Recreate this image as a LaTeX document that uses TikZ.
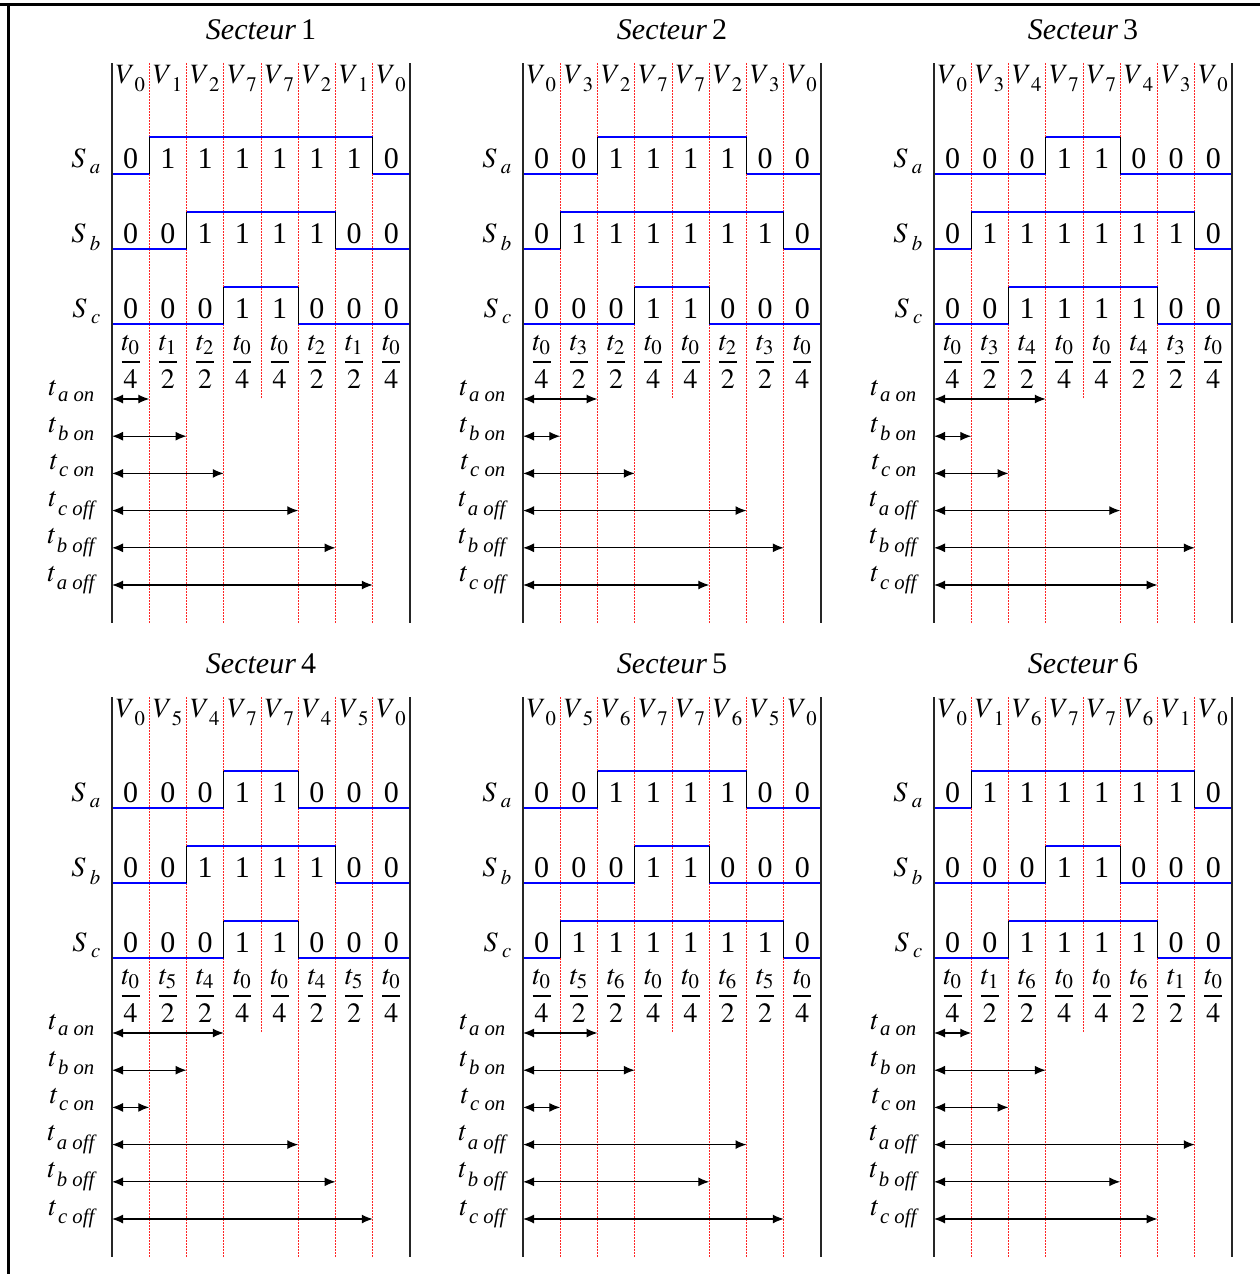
\documentclass[tikz,border=0pt]{standalone}
\usepackage{amsmath}
\usepackage{mathptmx}
\usepackage{fontspec}
\setmainfont{Liberation Serif}
\usepackage{tikz}
\usetikzlibrary{arrows.meta,positioning}

\def\colw{37.25}

\tikzset{
  titre/.style={font=\fontsize{30}{32}\selectfont},
  vlab/.style={font=\fontsize{28}{30}\selectfont, anchor=base, inner sep=0pt},
  bit/.style={font=\fontsize{30}{32}\selectfont, anchor=base, inner sep=0pt},
  slab/.style={font=\fontsize{28}{30}\selectfont, anchor=base east, inner sep=0pt},
  frac/.style={font=\fontsize{28}{30}\selectfont, anchor=base, inner sep=0pt},
  tlab/.style={font=\fontsize{28}{30}\selectfont, anchor=base east, inner sep=0pt},
  grille/.style={red!85, line width=0.9pt, dash pattern=on 1.5pt off 1.5pt},
  axe/.style={black!85, line width=1.3pt},
  signal/.style={blue, line width=1.3pt},
  front/.style={black, line width=1pt},
  fleche/.style={{Latex[length=11pt,width=9pt]}-{Latex[length=11pt,width=9pt]}, line width=1.2pt},
  cadre/.style={line width=3.3pt}
}

% one switching row: name, low level, values
\newcommand{\ligne}[3]{%
  \foreach \v [count=\i, remember=\v as \pv (initially 0)] in {#3} {
    \pgfmathsetmacro{\yy}{#2-37*\v}
    \draw[signal] ({(\i-1)*\colw},\yy) -- ({\i*\colw},\yy);
    \ifnum\v=\pv\relax\else
      \draw[front] ({(\i-1)*\colw},#2) -- ({(\i-1)*\colw},#2-37);
    \fi
    \node[bit] (#1\i) at ({(\i-0.5)*\colw},#2-6) {\v};
  }}

% one sector: name, origin, number, vectors, Sa, Sb, Sc, fractions, arrows
\newcommand{\secteur}[9]{%
  \begin{scope}[shift={#2}]
    \node[titre] (#1-titre) at (149,-33) {\textit{Secteur}\,#3};
    \foreach \k in {1,2,3,5,6,7}
      \draw[grille] ({\k*\colw},0) -- ({\k*\colw},560);
    \draw[grille] ({4*\colw},0) -- ({4*\colw},336);
    \foreach \n [count=\i] in {#4}
      \node[vlab] (#1-v\i) at ({(\i-0.5)*\colw},20) {$V_{\;\n}^{}$};
    \node[slab] (#1-sa) at (-11,104) {$S_{\;a}^{}$};
    \node[slab] (#1-sb) at (-11,179) {$S_{\;b}^{}$};
    \node[slab] (#1-sc) at (-11,254) {$S_{\;c}^{}$};
    \ligne{#1-a}{111}{#5}
    \ligne{#1-b}{186}{#6}
    \ligne{#1-c}{261}{#7}
    \foreach \n/\d [count=\i] in {#8}
      \node[frac] (#1-f\i) at ({(\i-0.5)*\colw},306) {$\dfrac{t_{\n}}{\d}$};
    \foreach \lab/\k [count=\i] in {#9} {
      \coordinate (#1-d\i) at (0,{336+37.2*(\i-1)});
      \coordinate (#1-e\i) at ({\k*\colw},{336+37.2*(\i-1)});
      \draw[fleche] (#1-d\i) -- (#1-e\i);
      \node[tlab] (#1-t\i) at ([xshift=-17pt,yshift=4pt]#1-d\i) {$t_{\,\textit{\lab}}^{}$};
    }
    \draw[axe] (0,0) -- (0,560);
    \draw[axe] ({8*\colw},0) -- ({8*\colw},560);
  \end{scope}}

\begin{document}
\begin{tikzpicture}[x=1pt,y=-1pt]
  \useasboundingbox (0,0) rectangle (1260,1274);
  \draw[cadre] (0,4.7) -- (1260,4.7);
  \draw[cadre] (8.5,3) -- (8.5,1274);

  \secteur{s1}{(112,63)}{1}{0,1,2,7,7,2,1,0}
    {0,1,1,1,1,1,1,0}{0,0,1,1,1,1,0,0}{0,0,0,1,1,0,0,0}
    {0/4,1/2,2/2,0/4,0/4,2/2,1/2,0/4}
    {a on/1,b on/2,c on/3,c off/5,b off/6,a off/7}
  \secteur{s2}{(523,63)}{2}{0,3,2,7,7,2,3,0}
    {0,0,1,1,1,1,0,0}{0,1,1,1,1,1,1,0}{0,0,0,1,1,0,0,0}
    {0/4,3/2,2/2,0/4,0/4,2/2,3/2,0/4}
    {a on/2,b on/1,c on/3,a off/6,b off/7,c off/5}
  \secteur{s3}{(934,63)}{3}{0,3,4,7,7,4,3,0}
    {0,0,0,1,1,0,0,0}{0,1,1,1,1,1,1,0}{0,0,1,1,1,1,0,0}
    {0/4,3/2,4/2,0/4,0/4,4/2,3/2,0/4}
    {a on/3,b on/1,c on/2,a off/5,b off/7,c off/6}
  \secteur{s4}{(112,697)}{4}{0,5,4,7,7,4,5,0}
    {0,0,0,1,1,0,0,0}{0,0,1,1,1,1,0,0}{0,0,0,1,1,0,0,0}
    {0/4,5/2,4/2,0/4,0/4,4/2,5/2,0/4}
    {a on/3,b on/2,c on/1,a off/5,b off/6,c off/7}
  \secteur{s5}{(523,697)}{5}{0,5,6,7,7,6,5,0}
    {0,0,1,1,1,1,0,0}{0,0,0,1,1,0,0,0}{0,1,1,1,1,1,1,0}
    {0/4,5/2,6/2,0/4,0/4,6/2,5/2,0/4}
    {a on/2,b on/3,c on/1,a off/6,b off/5,c off/7}
  \secteur{s6}{(934,697)}{6}{0,1,6,7,7,6,1,0}
    {0,1,1,1,1,1,1,0}{0,0,0,1,1,0,0,0}{0,0,1,1,1,1,0,0}
    {0/4,1/2,6/2,0/4,0/4,6/2,1/2,0/4}
    {a on/1,b on/3,c on/2,a off/7,b off/5,c off/6}
\end{tikzpicture}
\end{document}
